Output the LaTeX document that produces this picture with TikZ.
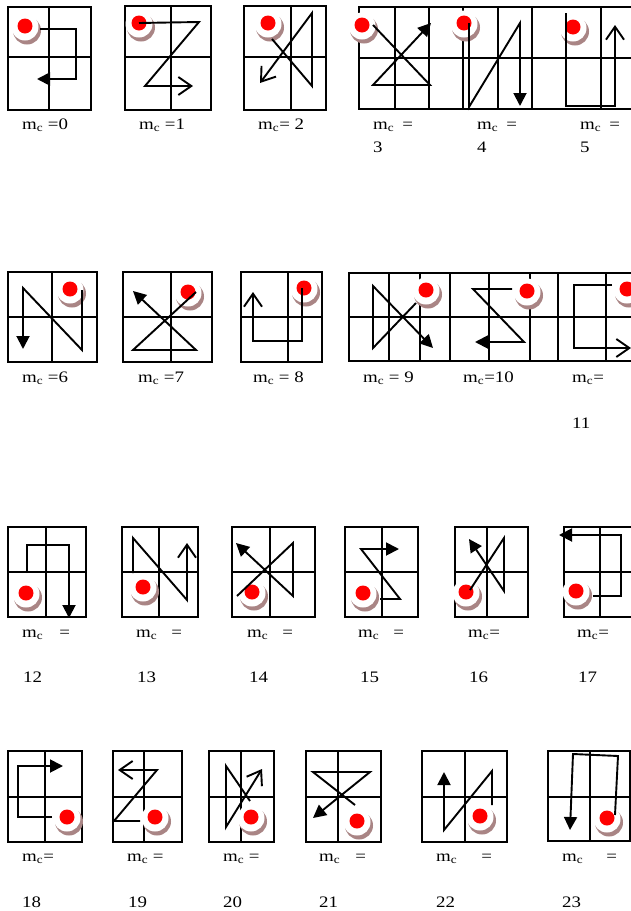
\documentclass[tikz,border=0pt]{standalone}
\usepackage{fontspec}
\setmainfont{Liberation Serif}
\newfontfamily\lblfont[FakeStretch=1.18]{Liberation Serif}
\usetikzlibrary{arrows.meta}
\definecolor{dotred}{HTML}{FF0000}
\definecolor{crescent}{HTML}{A98585}

\begin{document}
\begin{tikzpicture}[x=1pt,y=-1pt,
  frame/.style={line width=2.4pt},
  divider/.style={line width=1.6pt},
  walk/.style={line width=1.9pt,line join=miter},
  solidtip/.style={-{Triangle[length=13pt,width=13pt]}},
  opentip/.style={-{Straight Barb[length=13pt,width=18pt]}},
  lbl/.style={font=\lblfont\fontsize{16}{19}\selectfont,anchor=base west,inner sep=0pt},
  marker/.pic={
    \fill[crescent] (2,4.5) circle[radius=14pt];
    \fill[white] (0,1) circle[radius=13.5pt];
    \fill[dotred] (0,0) circle[radius=7.5pt];
  },
]
\useasboundingbox (0,0) rectangle (631,911);

% grids
\draw[frame] (8,7) rectangle (91,110);
\draw[divider] (49,7) -- (49,110) (8,57) -- (91,57);
\draw[frame] (125,6) rectangle (211,110);
\draw[divider] (171,6) -- (171,110) (125,57) -- (211,57);
\draw[frame] (244,6) rectangle (326,110);
\draw[divider] (291,6) -- (291,110) (244,57) -- (326,57);
\draw[frame] (631,7) -- (359,7) -- (359,109) -- (631,109);
\draw[frame] (359,58) -- (631,58);
\draw[frame] (395,7) -- (395,109) (429,7) -- (429,109) (463,7) -- (463,109)
  (498,7) -- (498,109) (532,7) -- (532,109) (601,7) -- (601,109);

\draw[frame] (8,272) rectangle (97,362);
\draw[divider] (52,272) -- (52,362) (8,317) -- (97,317);
\draw[frame] (123,272) rectangle (212,362);
\draw[divider] (171,272) -- (171,362) (123,317) -- (212,317);
\draw[frame] (241,272) rectangle (322,362);
\draw[divider] (288,272) -- (288,362) (241,317) -- (322,317);
\draw[frame] (631,273) -- (349,273) -- (349,361) -- (631,361);
\draw[divider] (349,317) -- (631,317) (389,273) -- (389,361) (420,273) -- (420,361);
\draw[frame] (450,273) -- (450,361) (489,273) -- (489,361) (530,273) -- (530,361)
  (558,273) -- (558,361) (606,273) -- (606,361);

\draw[frame] (8,527) rectangle (86,617);
\draw[divider] (46,527) -- (46,617) (8,572) -- (86,572);
\draw[frame] (122,527) rectangle (198,617);
\draw[divider] (159,527) -- (159,617) (122,572) -- (198,572);
\draw[frame] (232,527) rectangle (315,617);
\draw[divider] (270,527) -- (270,617) (232,572) -- (315,572);
\draw[frame] (345,527) rectangle (418,617);
\draw[divider] (382,527) -- (382,617) (345,572) -- (418,572);
\draw[frame] (455,527) rectangle (528,617);
\draw[divider] (487,527) -- (487,617) (455,572) -- (528,572);
\draw[frame] (631,527) -- (564,527) -- (564,617) -- (631,617);
\draw[divider] (600,527) -- (600,617) (564,572) -- (631,572);

\draw[frame] (8,751) rectangle (82,842);
\draw[divider] (45,751) -- (45,842) (8,797) -- (82,797);
\draw[frame] (113,751) rectangle (182,842);
\draw[divider] (144,751) -- (144,842) (113,797) -- (182,797);
\draw[frame] (209,751) rectangle (274,842);
\draw[divider] (241,751) -- (241,842) (209,797) -- (274,797);
\draw[frame] (306,751) rectangle (381,842);
\draw[divider] (338,751) -- (338,842) (306,797) -- (381,797);
\draw[frame] (422,751) rectangle (507,842);
\draw[divider] (465,751) -- (465,842) (422,797) -- (507,797);
\draw[frame] (548,751) rectangle (630,841);
\draw[divider] (590,751) -- (590,841) (548,797) -- (630,797);

% start markers
\coordinate (d0) at (25,26);   \coordinate (d1) at (139,23);
\coordinate (d2) at (268,23);  \coordinate (d3) at (362,25);
\coordinate (d4) at (464,23);  \coordinate (d5) at (573,27);
\coordinate (d6) at (70,289);  \coordinate (d7) at (188,292);
\coordinate (d8) at (304,288); \coordinate (d9) at (426,290);
\coordinate (d10) at (527,291); \coordinate (d11) at (627,289);
\coordinate (d12) at (26,593); \coordinate (d13) at (143,587);
\coordinate (d14) at (252,592); \coordinate (d15) at (363,593);
\coordinate (d16) at (466,592); \coordinate (d17) at (576,591);
\coordinate (d18) at (67,817); \coordinate (d19) at (155,817);
\coordinate (d20) at (251,817); \coordinate (d21) at (357,821);
\coordinate (d22) at (480,816); \coordinate (d23) at (607,818);
\foreach \d in {0,...,23} {\pic at (d\d) {marker};}

% walks
\draw[walk,solidtip] (40,29) -- (76,29) -- (76,79) -- (37,79);
\draw[walk,opentip] (d1) -- (199,22) -- (145,86) -- (193,86);
\draw[walk,opentip] (272,39) -- (312,86) -- (312,13) -- (260,83);
\draw[walk,solidtip] (373,25) -- (430,85) -- (373,85) -- (431,23);
\draw[walk,solidtip] (469,23) -- (469,107) -- (520,23) -- (520,106);
\draw[walk,opentip] (566,13) -- (566,106) -- (615,106) -- (615,25);

\draw[walk,solidtip] (82,290) -- (82,350) -- (23,288) -- (23,349);
\draw[walk,solidtip] (196,292) -- (133,350) -- (196,350) -- (133,291);
\draw[walk,opentip] (302,288) -- (302,341) -- (253,341) -- (253,292);
\draw[walk,solidtip] (416,303) -- (373,348) -- (373,286) -- (433,348);
\draw[walk,solidtip] (512,289) -- (473,289) -- (524,342) -- (475,342);
\draw[walk,opentip] (612,285) -- (574,285) -- (574,348) -- (631,348);

\draw[walk,solidtip] (27,573) -- (27,545) -- (69,545) -- (69,618);
\draw[walk,opentip] (133,573) -- (133,538) -- (187,600) -- (187,543);
\draw[walk,solidtip] (237,596) -- (293,543) -- (293,596) -- (236,543);
\draw[walk,solidtip] (380,599) -- (400,599) -- (361,549) -- (399,549);
\draw[walk,solidtip] (470,590) -- (504,538) -- (504,591) -- (469,539);
\draw[walk,solidtip] (593,596) -- (621,596) -- (621,535) -- (559,535);

\draw[walk,solidtip] (52,817) -- (18,817) -- (18,766) -- (63,766);
\draw[walk,opentip] (140,821) -- (114,821) -- (157,770) -- (118,770);
\draw[walk,opentip] (250,801) -- (226,766) -- (226,827) -- (262,769);
\draw[walk,solidtip] (355,805) -- (313,772) -- (370,772) -- (313,818);
\draw[walk,solidtip] (492,805) -- (492,771) -- (444,830) -- (444,772);
\draw[walk,solidtip] (615,815) -- (618,756) -- (573,754) -- (570,830);

% labels
\node[lbl] (lab0) at (22,129) {m\textsubscript{c} =0};
\node[lbl] (lab1) at (139,129) {m\textsubscript{c} =1};
\node[lbl] (lab2) at (258,129) {m\textsubscript{c}= 2};
\node[lbl] (lab3) at (373,129) {m\textsubscript{c}\hspace{8pt}=};
\node[lbl] (num3) at (373,152) {3};
\node[lbl] (lab4) at (477,129) {m\textsubscript{c}\hspace{8pt}=};
\node[lbl] (num4) at (477,152) {4};
\node[lbl] (lab5) at (580,129) {m\textsubscript{c}\hspace{8pt}=};
\node[lbl] (num5) at (580,152) {5};

\node[lbl] (lab6) at (22,382) {m\textsubscript{c} =6};
\node[lbl] (lab7) at (138,382) {m\textsubscript{c} =7};
\node[lbl] (lab8) at (253,382) {m\textsubscript{c} = 8};
\node[lbl] (lab9) at (363,382) {m\textsubscript{c} = 9};
\node[lbl] (lab10) at (463,382) {m\textsubscript{c}=10};
\node[lbl] (lab11) at (572,382) {m\textsubscript{c}=};
\node[lbl] (num11) at (572,428) {11};

\node[lbl] (lab12) at (22,637) {m\textsubscript{c}\hspace{16pt}=};
\node[lbl] (num12) at (23,682) {12};
\node[lbl] (lab13) at (136,637) {m\textsubscript{c}\hspace{14pt}=};
\node[lbl] (num13) at (137,682) {13};
\node[lbl] (lab14) at (247,637) {m\textsubscript{c}\hspace{14pt}=};
\node[lbl] (num14) at (249,682) {14};
\node[lbl] (lab15) at (358,637) {m\textsubscript{c}\hspace{14pt}=};
\node[lbl] (num15) at (360,682) {15};
\node[lbl] (lab16) at (468,637) {m\textsubscript{c}=};
\node[lbl] (num16) at (469,682) {16};
\node[lbl] (lab17) at (577,637) {m\textsubscript{c}=};
\node[lbl] (num17) at (578,682) {17};

\node[lbl] (lab18) at (22,861) {m\textsubscript{c}=};
\node[lbl] (num18) at (22,907) {18};
\node[lbl] (lab19) at (127,861) {m\textsubscript{c} =};
\node[lbl] (num19) at (128,907) {19};
\node[lbl] (lab20) at (223,861) {m\textsubscript{c} =};
\node[lbl] (num20) at (223,907) {20};
\node[lbl] (lab21) at (319,861) {m\textsubscript{c}\hspace{15pt}=};
\node[lbl] (num21) at (319,907) {21};
\node[lbl] (lab22) at (436,861) {m\textsubscript{c}\hspace{24pt}=};
\node[lbl] (num22) at (436,907) {22};
\node[lbl] (lab23) at (562,861) {m\textsubscript{c}\hspace{23pt}=};
\node[lbl] (num23) at (562,907) {23};

\end{tikzpicture}
\end{document}
